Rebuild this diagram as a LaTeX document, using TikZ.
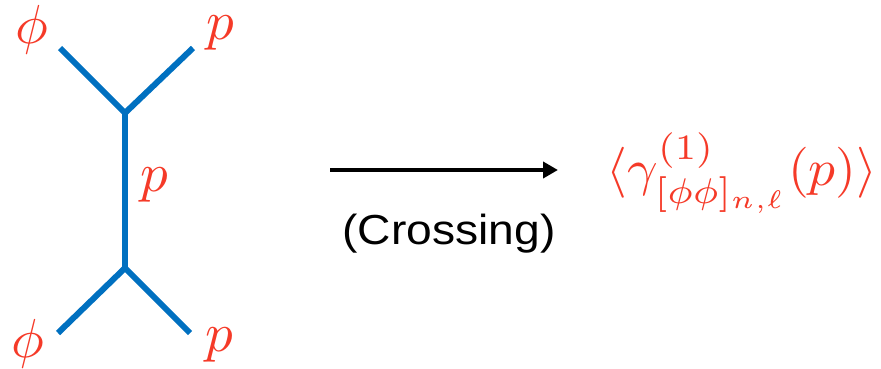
\documentclass[tikz,border=0pt]{standalone}
\usepackage{fontspec}
\newfontfamily\crossfont{Liberation Sans}
\usetikzlibrary{arrows.meta}
\definecolor{lineblue}{RGB}{0,112,192}
\definecolor{labred}{RGB}{245,58,40}
\tikzset{
  leg/.style={draw=lineblue, line width=6pt, line cap=butt},
  lab/.style={text=labred, inner sep=0pt},
}
\begin{document}
\begin{tikzpicture}[x=1pt,y=-1pt]
\useasboundingbox (0,0) rectangle (881,369);
\coordinate (v1) at (125,113);
\coordinate (v2) at (125,268);
\coordinate (e1) at (60,48);
\coordinate (e2) at (193,48);
\coordinate (e3) at (58,333);
\coordinate (e4) at (190,333);
\draw[leg] (e1) -- (v1) -- (e2);
\draw[leg] (v1) -- (v2);
\draw[leg] (e3) -- (v2) -- (e4);
\node[lab] (l1) at (32,30) {\scalebox{5.5}{$\phi$}};
\node[lab] (l2) at (220,33) {\scalebox{5.5}{$p$}};
\node[lab] (l3) at (154,185) {\scalebox{5.5}{$p$}};
\node[lab] (l4) at (28,344) {\scalebox{5.5}{$\phi$}};
\node[lab] (l5) at (219,345) {\scalebox{5.5}{$p$}};
\coordinate (a1) at (330,170);
\coordinate (a2) at (558,170);
\draw[line width=4pt, -{Triangle[length=15pt,width=16pt]}] (a1) -- (a2);
\node[inner sep=0pt, font=\crossfont\fontsize{42}{46}\selectfont, xscale=1.1] (cr) at (449,234) {(Crossing)};
\node[lab] (f) at (742,173) {\scalebox{5.35}[5.1]{$\langle\gamma^{(1)}_{[\phi\phi]_{n,\ell}}(p)\rangle$}};
\end{tikzpicture}
\end{document}
